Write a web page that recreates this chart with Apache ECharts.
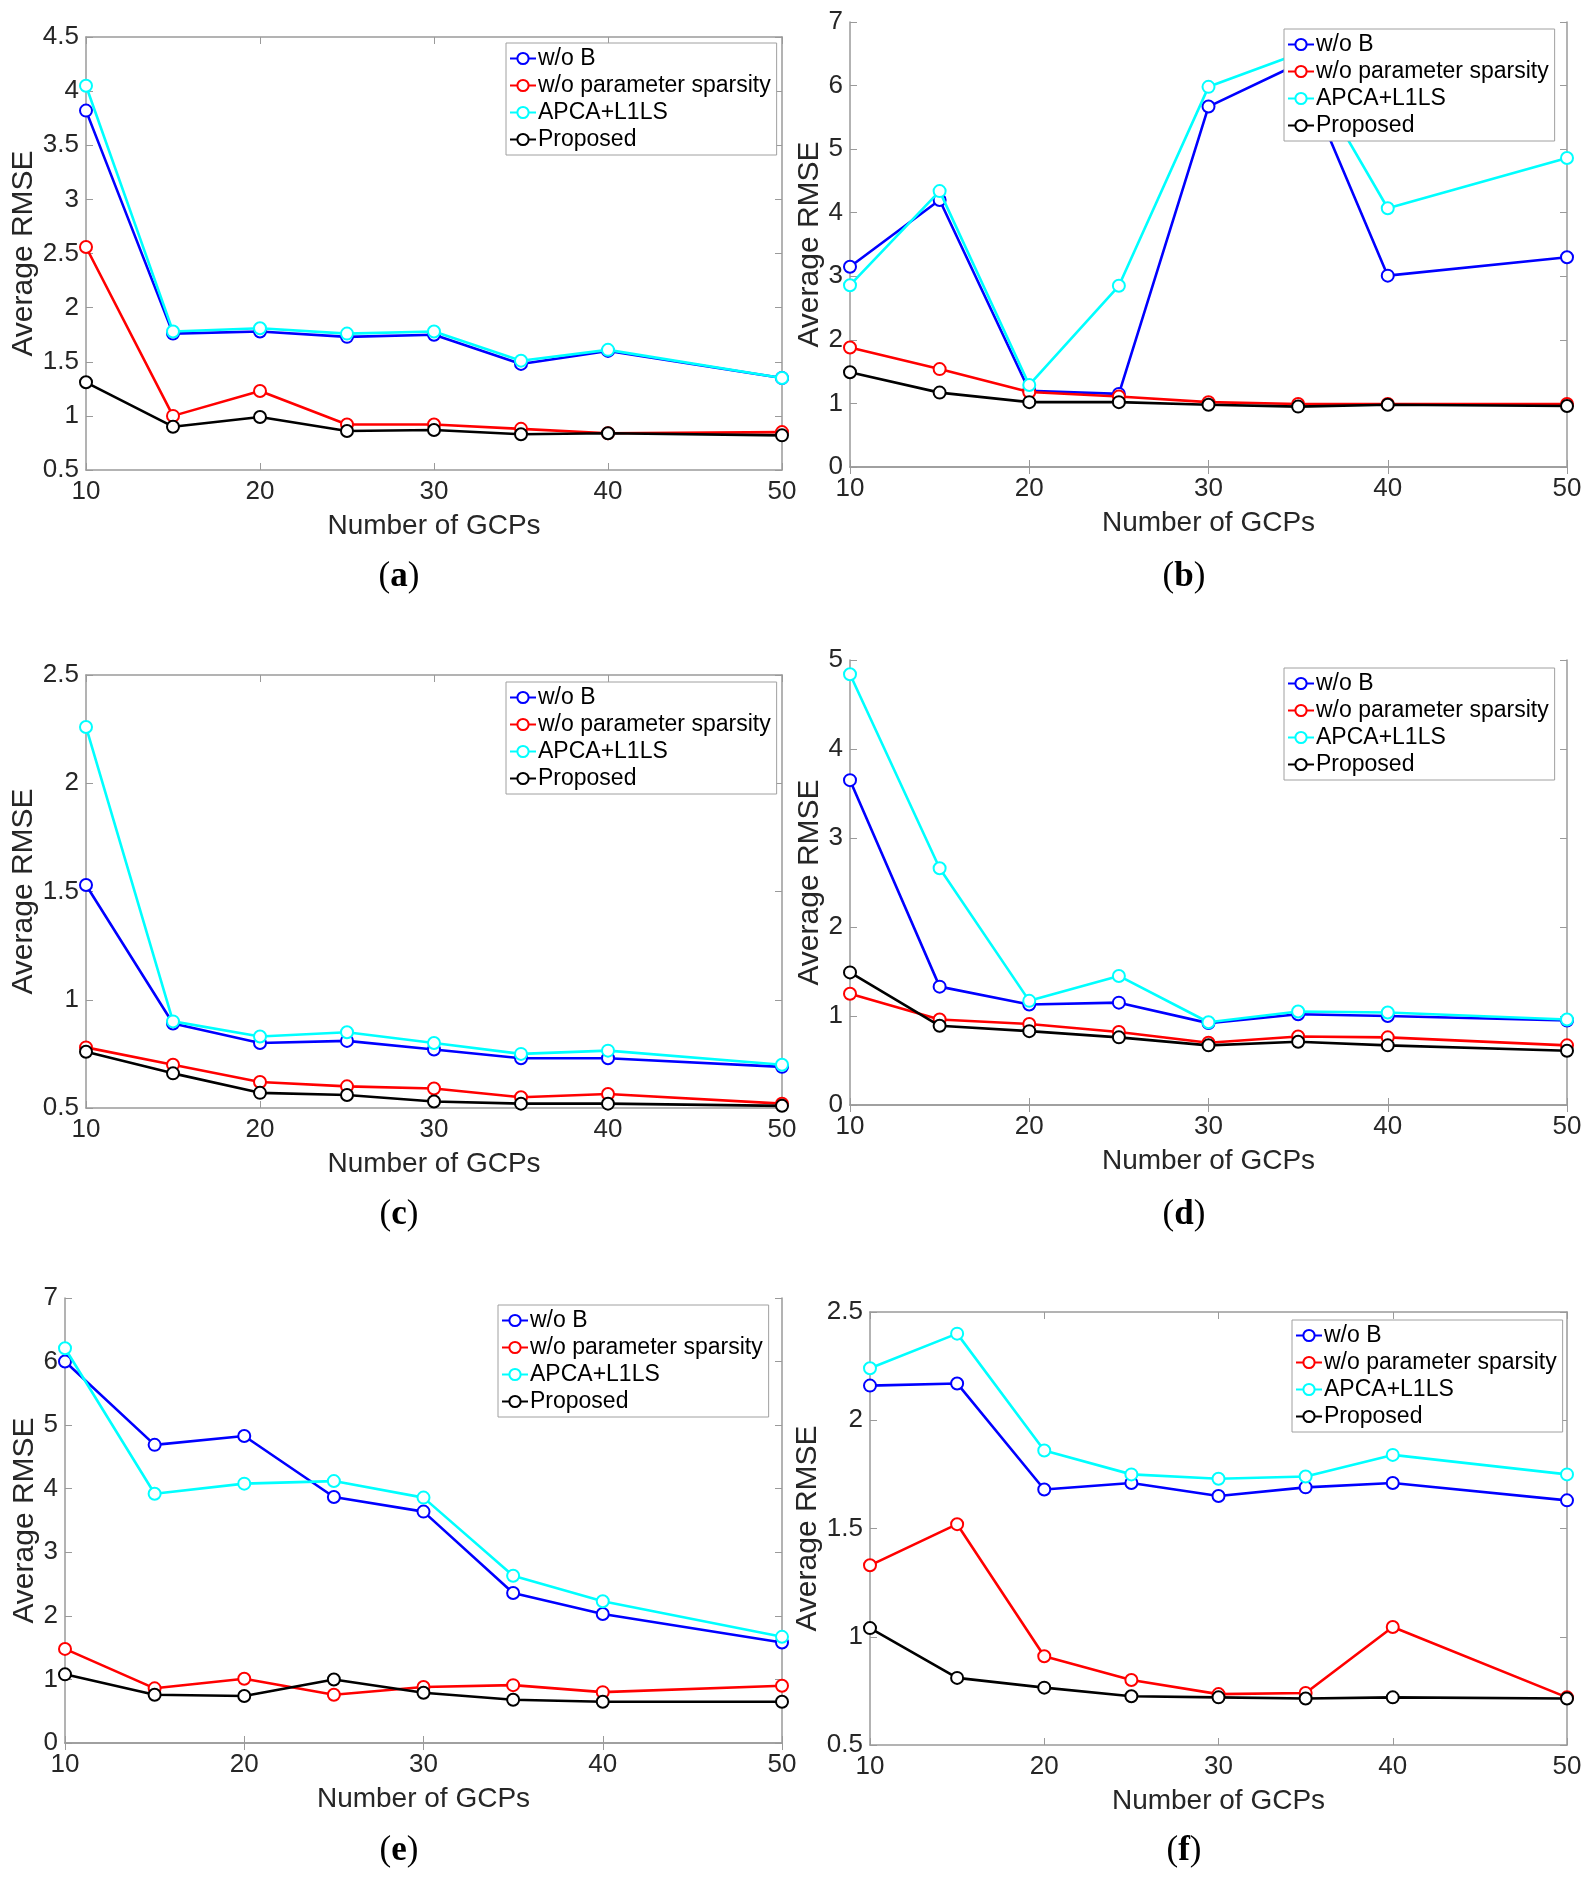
<!DOCTYPE html>
<html>
<head>
<meta charset="utf-8">
<script src="https://cdn.jsdelivr.net/npm/echarts@6/dist/echarts.min.js"></script>
<style>
  body { margin: 0; background: #fff; }
  #chart { width: 1593px; height: 1883px; }
</style>
</head>
<body>
<div id="chart"></div>
<script>
// x values (number of GCPs)
const gcps = [10, 15, 20, 25, 30, 35, 40, 50];
const seriesNames = ['w/o B', 'w/o parameter sparsity', 'APCA+L1LS', 'Proposed'];

// (a)
const aWoB      = [3.82, 1.76, 1.78, 1.73, 1.75, 1.48, 1.60, 1.35];
const aSparsity = [2.56, 1.00, 1.23, 0.92, 0.92, 0.88, 0.84, 0.85];
const aApca     = [4.05, 1.78, 1.81, 1.76, 1.78, 1.51, 1.61, 1.35];
const aProposed = [1.31, 0.90, 0.99, 0.86, 0.87, 0.83, 0.84, 0.82];
// (b)
const bWoB      = [3.15, 4.20, 1.20, 1.15, 5.67, 6.34, 3.01, 3.30];
const bSparsity = [1.88, 1.54, 1.18, 1.11, 1.02, 0.99, 0.99, 0.99];
const bApca     = [2.86, 4.34, 1.29, 2.85, 5.98, 6.50, 4.07, 4.86];
const bProposed = [1.49, 1.17, 1.02, 1.02, 0.98, 0.95, 0.98, 0.96];
// (c)
const cWoB      = [1.53, 0.89, 0.80, 0.81, 0.77, 0.73, 0.73, 0.69];
const cSparsity = [0.78, 0.70, 0.62, 0.60, 0.59, 0.55, 0.565, 0.52];
const cApca     = [2.26, 0.90, 0.83, 0.85, 0.80, 0.75, 0.765, 0.70];
const cProposed = [0.76, 0.66, 0.57, 0.56, 0.53, 0.52, 0.52, 0.51];
// (d)
const dWoB      = [3.65, 1.33, 1.13, 1.15, 0.92, 1.02, 1.00, 0.95];
const dSparsity = [1.25, 0.96, 0.91, 0.82, 0.70, 0.77, 0.76, 0.67];
const dApca     = [4.84, 2.66, 1.17, 1.45, 0.93, 1.05, 1.04, 0.96];
const dProposed = [1.49, 0.89, 0.83, 0.76, 0.67, 0.71, 0.67, 0.61];
// (e)
const eWoB      = [6.00, 4.69, 4.83, 3.87, 3.64, 2.36, 2.03, 1.58];
const eSparsity = [1.48, 0.86, 1.01, 0.76, 0.88, 0.91, 0.80, 0.90];
const eApca     = [6.21, 3.92, 4.08, 4.12, 3.86, 2.63, 2.23, 1.67];
const eProposed = [1.08, 0.76, 0.74, 1.00, 0.79, 0.68, 0.65, 0.65];
// (f)
const fWoB      = [2.16, 2.17, 1.68, 1.71, 1.65, 1.69, 1.71, 1.63];
const fSparsity = [1.33, 1.52, 0.91, 0.80, 0.735, 0.74, 1.045, 0.72];
const fApca     = [2.24, 2.40, 1.86, 1.75, 1.73, 1.74, 1.84, 1.75];
const fProposed = [1.04, 0.81, 0.765, 0.725, 0.72, 0.715, 0.72, 0.715];

// y axis [min, max, step] per panel
const aY = [0.5, 4.5, 0.5];
const bY = [0, 7, 1];
const cY = [0.5, 2.5, 0.5];
const dY = [0, 5, 1];
const eY = [0, 7, 1];
const fY = [0.5, 2.5, 0.5];
const panelLetters = ['a', 'b', 'c', 'd', 'e', 'f'];

var myChart = echarts.init(document.getElementById('chart'));

const colors = ['#0000ff', '#ff0000', '#00ffff', '#000000'];
const axisGrey = '#9a9a9a';
const sans = 'Liberation Sans, Arial, sans-serif';

// layout of each panel (pixels); yGap = distance of y title from the axis
const panels = [
  { grid: [86, 37, 696, 433],   legend: [506, 43],    label: [399, 577],   yGap: 43, y: aY, data: [aWoB, aSparsity, aApca, aProposed] },
  { grid: [850, 22, 717, 445],  legend: [1284, 29],   label: [1184, 577],  yGap: 22, y: bY, data: [bWoB, bSparsity, bApca, bProposed] },
  { grid: [86, 675, 696, 433],  legend: [506, 682],   label: [399, 1215],  yGap: 43, y: cY, data: [cWoB, cSparsity, cApca, cProposed] },
  { grid: [850, 660, 717, 445], legend: [1284, 668],  label: [1184, 1215], yGap: 22, y: dY, data: [dWoB, dSparsity, dApca, dProposed] },
  { grid: [65, 1298, 717, 445], legend: [498, 1305],  label: [399, 1851],  yGap: 22, y: eY, data: [eWoB, eSparsity, eApca, eProposed] },
  { grid: [870, 1312, 697, 433], legend: [1292, 1320], label: [1184, 1851], yGap: 42, y: fY, data: [fWoB, fSparsity, fApca, fProposed] }
];

const option = {
  animation: false,
  backgroundColor: '#fff',
  grid: [], xAxis: [], yAxis: [], series: [], legend: [], graphic: []
};

panels.forEach(function (p, i) {
  option.grid.push({ left: p.grid[0], top: p.grid[1], width: p.grid[2], height: p.grid[3] });

  const xBase = {
    type: 'value', gridIndex: i, min: 10, max: 50, interval: 10,
    axisLine: { show: true, lineStyle: { color: axisGrey, width: 1.5 } },
    axisTick: { show: true, inside: true, length: 7, lineStyle: { color: axisGrey } },
    splitLine: { show: false }
  };
  option.xAxis.push(Object.assign({}, xBase, {
    position: 'bottom',
    name: 'Number of GCPs', nameLocation: 'middle', nameGap: 42,
    nameTextStyle: { fontFamily: sans, fontSize: 28, color: '#262626' },
    axisLabel: { margin: 9, fontFamily: sans, fontSize: 26, color: '#262626' }
  }));
  option.xAxis.push(Object.assign({}, xBase, { position: 'top', axisLabel: { show: false } }));

  const yBase = {
    type: 'value', gridIndex: i, min: p.y[0], max: p.y[1], interval: p.y[2],
    axisLine: { show: true, lineStyle: { color: axisGrey, width: 1.5 } },
    axisTick: { show: true, inside: true, length: 7, lineStyle: { color: axisGrey } },
    splitLine: { show: false }
  };
  option.yAxis.push(Object.assign({}, yBase, {
    position: 'left',
    name: 'Average RMSE', nameLocation: 'middle', nameGap: p.yGap,
    nameTextStyle: { fontFamily: sans, fontSize: 30, color: '#262626' },
    axisLabel: { margin: 7, fontFamily: sans, fontSize: 26, color: '#262626' }
  }));
  option.yAxis.push(Object.assign({}, yBase, { position: 'right', axisLabel: { show: false } }));

  p.data.forEach(function (vals, k) {
    option.series.push({
      name: seriesNames[k], type: 'line',
      xAxisIndex: i * 2, yAxisIndex: i * 2,
      data: gcps.map(function (g, j) { return [g, vals[j]]; }),
      symbol: 'emptyCircle', symbolSize: 12,
      lineStyle: { color: colors[k], width: 2.6 },
      itemStyle: { color: colors[k], borderColor: colors[k], borderWidth: 2.2 },
      z: 2 + k
    });
  });

  option.legend.push({
    data: seriesNames, orient: 'vertical', left: p.legend[0], top: p.legend[1],
    selectedMode: false, itemWidth: 26, itemHeight: 14, itemGap: 4,
    padding: [4, 6, 4, 3],
    backgroundColor: '#fff', borderColor: '#a0a0a0', borderWidth: 1, borderRadius: 0,
    textStyle: { fontFamily: sans, fontSize: 23, lineHeight: 23, color: '#000', padding: [0, 0, 0, -3] },
    z: 10
  });

  option.graphic.push({
    type: 'text', x: p.label[0], y: p.label[1],
    style: {
      text: '{p|(}{b|' + panelLetters[i] + '}{p|)}',
      align: 'center', verticalAlign: 'middle',
      rich: {
        p: { fontFamily: 'Liberation Serif, serif', fontSize: 35, color: '#000' },
        b: { fontFamily: 'Liberation Serif, serif', fontSize: 35, fontWeight: 'bold', color: '#000' }
      }
    }
  });
});

myChart.setOption(option);
</script>
</body>
</html>
